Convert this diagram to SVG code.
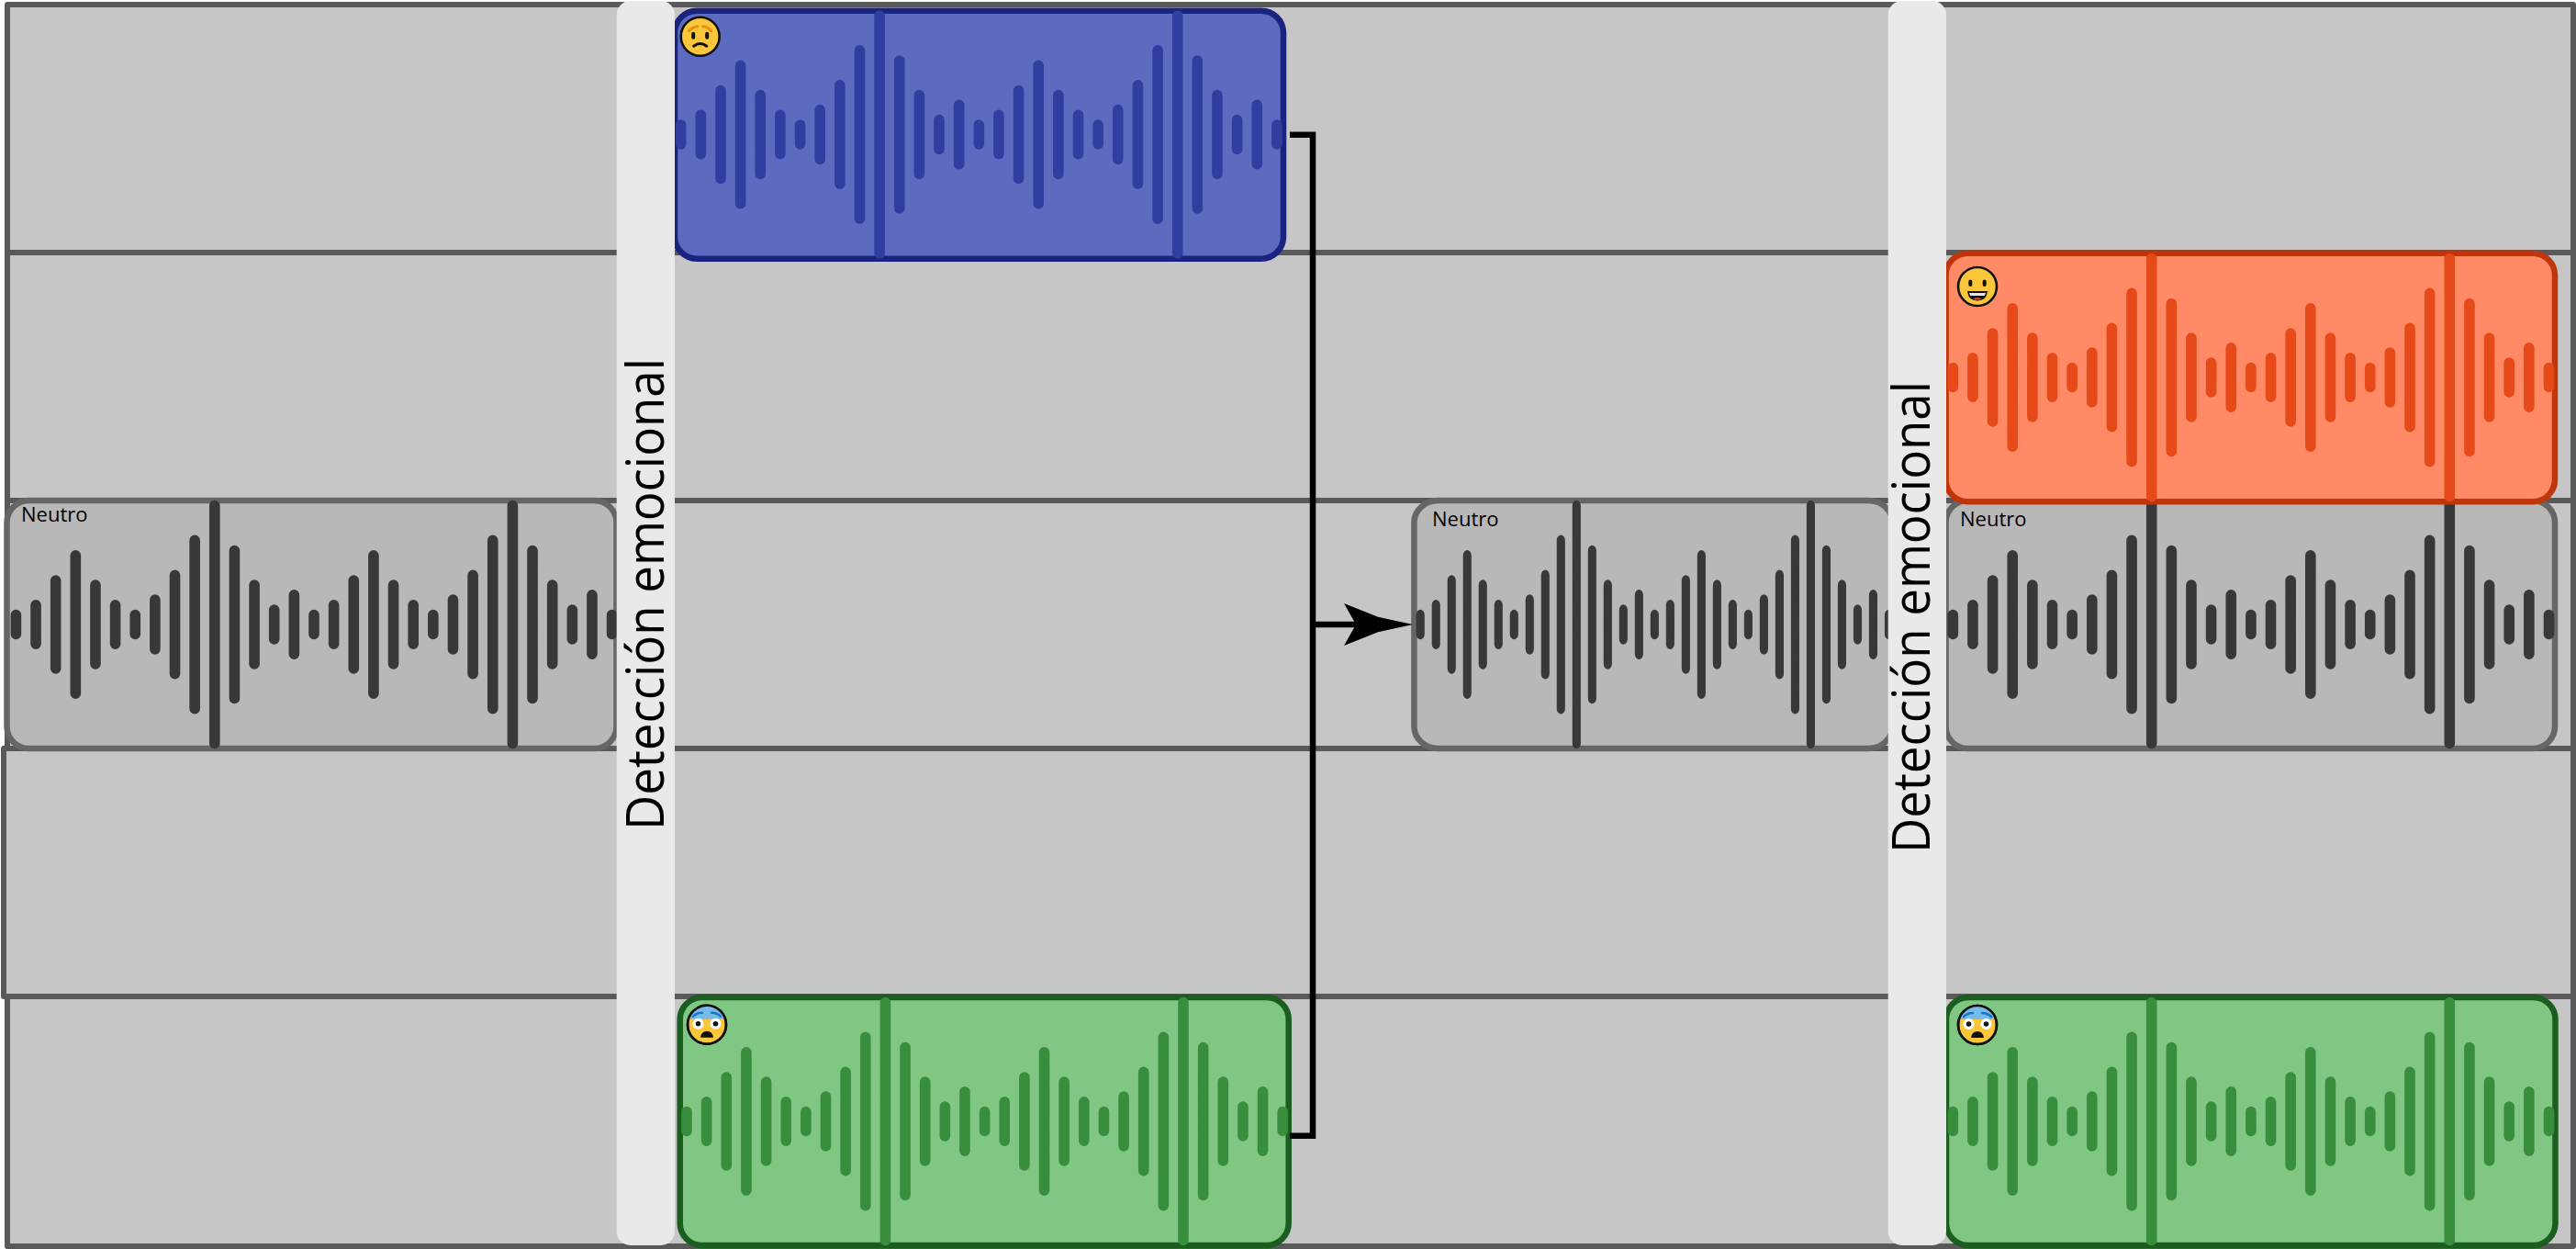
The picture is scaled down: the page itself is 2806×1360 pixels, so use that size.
<svg xmlns="http://www.w3.org/2000/svg" xmlns:xlink="http://www.w3.org/1999/xlink" width="2806" height="1360" viewBox="0 0 2806 1360">
<style>
.row{fill:#c6c6c6;stroke:#595959;stroke-width:6;stroke-linejoin:round}
.clip{stroke-width:6.5}
.wav{fill:none;stroke-width:11.6;stroke-linecap:round}
.grey{fill:#b8b8b8;stroke:#666}
.gw{stroke:#383838}
.blue{fill:#5c6bc0;stroke:#1a237e}
.bw{stroke:#303f9f}
.green{fill:#81c784;stroke:#1b5e20}
.nw{stroke:#388e3c}
.orange{fill:#ff8a65;stroke:#bf360c}
.ow{stroke:#e64a19}
.strip{fill:#e9e9e9}
.big{font-family:"Open Sans","Liberation Sans",sans-serif;font-size:56px;fill:#000}
.lab{font-family:"Open Sans","Liberation Sans",sans-serif;font-size:22px;fill:#000}
.face{fill:#fcc63b;stroke:#111;stroke-width:2.6}
.ink{fill:#111}
.line{fill:none;stroke:#111;stroke-width:3;stroke-linecap:round}
.conn{fill:none;stroke:#000;stroke-width:6.5}
</style>
<defs>
<marker id="arrow" markerUnits="userSpaceOnUse" markerWidth="76" markerHeight="48" viewBox="0 0 76 48" refX="13" refY="24" orient="auto"><path d="M0 1L37 15.7L75 24L37 32.3L0 47L13 24Z" fill="#000"/></marker>
<path id="wave" d="M0-10.5V10.5M21.64-21.2V21.2M43.28-48V48M64.92-75.2V75.2M86.56-42.9V42.9M108.2-21.2V21.2M129.84-10.5V10.5M151.48-26.9V26.9M173.12-53.7V53.7M194.76-91.7V91.7M216.4-129.5V129.5M238.04-80.5V80.5M259.68-42.9V42.9M281.32-15.9V15.9M302.96-32.2V32.2M324.6-10.5V10.5M346.24-21.2V21.2M367.88-48V48M389.52-75.2V75.2M411.16-42.9V42.9M432.8-21.2V21.2M454.44-10.5V10.5M476.08-26.9V26.9M497.72-53.7V53.7M519.36-91.7V91.7M541-129.5V129.5M562.64-80.5V80.5M584.28-42.9V42.9M605.92-15.9V15.9M627.56-32.2V32.2M649.2-10.5V10.5"/>
<g id="sad"><circle class="face" r="21"/><path d="M-12-6Q-9-10-3-11M12-6Q9-10 3-11" fill="none" stroke="#e0950f" stroke-width="3" stroke-linecap="round"/><rect class="ink" x="-9.500" y="-5" width="4" height="8" rx="2"/><rect class="ink" x="5.500" y="-5" width="4" height="8" rx="2"/><path class="line" d="M-7 10.500Q0 5 7 10.500"/></g>
<g id="happy"><circle class="face" r="21"/><rect class="ink" x="-9.700" y="-7.500" width="4" height="7.500" rx="2"/><rect class="ink" x="5.700" y="-7.500" width="4" height="7.500" rx="2"/><path d="M-11 5H11Q10 15.500 0 15.500Q-10 15.500-11 5Z" fill="#111"/><path d="M-9 7H9L8 10H-8Z" fill="#e6e6e6"/><path d="M-5 14Q0 10 5 14Q0 15-5 14Z" fill="#e0452a"/></g>
<g id="fear"><circle class="face" r="21"/><path d="M-19.500-6A20.500 20.500 0 0 1 19.500-6Z" fill="#78bbe8"/><path d="M-15-9Q-11-13-5-13M15-9Q11-13 5-13" fill="none" stroke="#1a78c2" stroke-width="2.600" stroke-linecap="round"/><circle cx="-9.500" cy="-1" r="6" fill="#fff"/><circle cx="9.500" cy="-1" r="6" fill="#fff"/><circle class="ink" cx="-9.500" cy="-1" r="2.800"/><circle class="ink" cx="9.500" cy="-1" r="2.800"/><path class="ink" d="M-7 14Q-6 7 0 7Q6 7 7 14Z"/><circle r="21" fill="none" stroke="#111" stroke-width="2.600"/></g>
</defs>
<g id="rows">
<rect class="row" x="8" y="5" width="2795" height="270"/>
<rect class="row" x="8" y="275" width="2795" height="270"/>
<rect class="row" x="8" y="545" width="2795" height="270"/>
<rect class="row" x="8" y="1085" width="2795" height="272"/>
<rect class="row" x="4" y="815" width="2799" height="270"/>
</g>
<g id="neutro-entrada">
<rect class="clip grey" x="7.500" y="545" width="664" height="270" rx="24"/>
<text class="lab" x="23" y="568">Neutro</text>
<use xlink:href="#wave" class="wav gw" transform="translate(17.4 680)"/>
</g>
<g id="neutro-medio">
<rect class="clip grey" x="1540.400" y="545" width="521" height="270" rx="26" ry="24"/>
<text class="lab" x="1560" y="573">Neutro</text>
<use xlink:href="#wave" class="wav gw" transform="translate(1547.2 680) scale(.786 1)"/>
</g>
<g id="neutro-salida">
<rect class="clip grey" x="2119.500" y="545" width="663.500" height="270" rx="24"/>
<text class="lab" x="2135" y="573">Neutro</text>
<use xlink:href="#wave" class="wav gw" transform="translate(2127.3 680)"/>
</g>
<g id="triste">
<rect class="clip blue" x="735" y="11.700" width="663" height="270" rx="24"/>
<use xlink:href="#wave" class="wav bw" transform="translate(741.7 146.500)"/>
<use xlink:href="#sad" transform="translate(762.700 39.700)"/>
</g>
<g id="miedo-entrada">
<rect class="clip green" x="740.700" y="1086" width="663" height="270" rx="24"/>
<use xlink:href="#wave" class="wav nw" transform="translate(748 1221)"/>
<use xlink:href="#fear" transform="translate(770 1115.700)"/>
</g>
<g id="feliz">
<rect class="clip orange" x="2119.500" y="275.700" width="663.500" height="270.600" rx="24"/>
<use xlink:href="#wave" class="wav ow" transform="translate(2127.3 411)"/>
<use xlink:href="#happy" transform="translate(2154 312)"/>
</g>
<g id="miedo-salida">
<rect class="clip green" x="2120" y="1086" width="663.500" height="270" rx="24"/>
<use xlink:href="#wave" class="wav nw" transform="translate(2127.3 1221)"/>
<use xlink:href="#fear" transform="translate(2154 1116)"/>
</g>
<g id="connectors">
<path class="conn" d="M1405 146.700H1430V1236.700H1405"/>
<path class="conn" d="M1430 680H1477" marker-end="url(#arrow)"/>
</g>
<g id="deteccion-1">
<rect class="strip" x="671.700" y="1" width="63.300" height="1355" rx="15"/>
<text class="big" transform="translate(722.700 904) rotate(-90)" textLength="514" lengthAdjust="spacingAndGlyphs">Detección emocional</text>
</g>
<g id="deteccion-2">
<rect class="strip" x="2056.700" y="1" width="63.300" height="1355" rx="15"/>
<text class="big" transform="translate(2102.300 929) rotate(-90)" textLength="514" lengthAdjust="spacingAndGlyphs">Detección emocional</text>
</g>
</svg>
